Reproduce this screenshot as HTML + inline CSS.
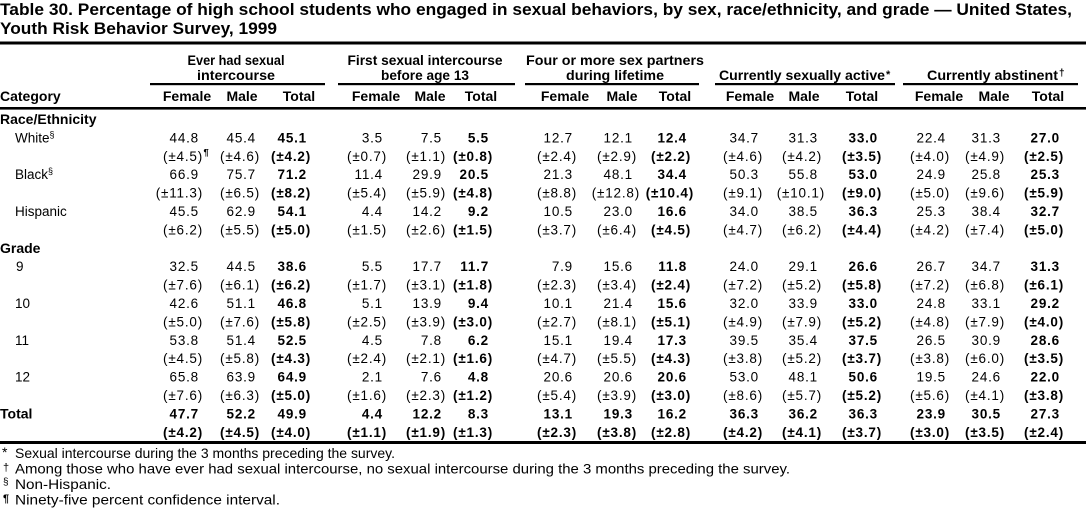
<!DOCTYPE html>
<html>
<head>
<meta charset="utf-8">
<style>
html,body{margin:0;padding:0;background:#fff;}
svg{display:block;}
text{font-family:"Liberation Sans",Arial,sans-serif;fill:#000;}
.ttl{font-size:17px;font-weight:bold;}
.grp{font-size:14px;font-weight:bold;text-anchor:middle;}
.hd{font-size:14px;font-weight:bold;text-anchor:middle;}
.cat{font-size:14px;font-weight:bold;}
.sub{font-size:13.5px;}
.n{font-size:13.5px;letter-spacing:0.8px;text-anchor:end;}
.b{font-weight:bold;}
.fn{font-size:14px;}
.sup{font-size:9px;}
</style>
</head>
<body>
<svg width="1086" height="509" viewBox="0 0 1086 509" xmlns="http://www.w3.org/2000/svg">
<!-- Title -->
<text class="ttl" x="0" y="15" textLength="1072" lengthAdjust="spacingAndGlyphs">Table 30. Percentage of high school students who engaged in sexual behaviors, by sex, race/ethnicity, and grade — United States,</text>
<text class="ttl" x="0" y="34" textLength="277" lengthAdjust="spacingAndGlyphs">Youth Risk Behavior Survey, 1999</text>

<!-- rules -->
<rect x="0" y="41.5" width="1086" height="3" fill="#000"/>
<rect x="0" y="107" width="1086" height="2.6" fill="#000"/>
<rect x="0" y="441" width="1086" height="3" fill="#000"/>

<!-- group underlines -->
<rect x="150" y="83" width="175" height="2.2" fill="#000"/>
<rect x="338" y="83" width="177" height="2.2" fill="#000"/>
<rect x="525" y="83" width="174" height="2.2" fill="#000"/>
<rect x="715" y="83" width="180" height="2.2" fill="#000"/>
<rect x="903" y="83" width="175" height="2.2" fill="#000"/>

<!-- group labels -->
<text class="grp" x="236" y="65" textLength="97" lengthAdjust="spacingAndGlyphs">Ever had sexual</text>
<text class="grp" x="236" y="80" textLength="78" lengthAdjust="spacingAndGlyphs">intercourse</text>
<text class="grp" x="425" y="65" textLength="155" lengthAdjust="spacingAndGlyphs">First sexual intercourse</text>
<text class="grp" x="425" y="80" textLength="88" lengthAdjust="spacingAndGlyphs">before age 13</text>
<text class="grp" x="615" y="65" textLength="178" lengthAdjust="spacingAndGlyphs">Four or more sex partners</text>
<text class="grp" x="615" y="80" textLength="98" lengthAdjust="spacingAndGlyphs">during lifetime</text>
<text class="cat" x="719" y="80" textLength="166" lengthAdjust="spacingAndGlyphs">Currently sexually active</text>
<text class="cat" x="886" y="78" style="font-size:11px">*</text>
<text class="cat" x="927" y="80" textLength="131" lengthAdjust="spacingAndGlyphs">Currently abstinent</text>
<text class="cat" x="1059" y="76" style="font-size:10px">†</text>

<!-- column headers -->
<text class="cat" x="0" y="101">Category</text>
<text class="hd" y="101"><tspan x="187">Female</tspan><tspan x="242">Male</tspan><tspan x="299">Total</tspan><tspan x="376">Female</tspan><tspan x="430">Male</tspan><tspan x="481">Total</tspan><tspan x="565">Female</tspan><tspan x="622">Male</tspan><tspan x="675">Total</tspan><tspan x="750">Female</tspan><tspan x="804">Male</tspan><tspan x="862">Total</tspan><tspan x="939">Female</tspan><tspan x="994">Male</tspan><tspan x="1048">Total</tspan></text>

<!-- category column -->
<text class="cat" x="0" y="124">Race/Ethnicity</text>
<text class="sub" x="15" y="142.4">White<tspan class="sup" dy="-5">§</tspan></text>
<text class="sub" x="15" y="179.2">Black<tspan class="sup" dy="-5">§</tspan></text>
<text class="sub" x="15" y="216">Hispanic</text>
<text class="cat" x="0" y="252.8">Grade</text>
<text class="sub" x="16" y="271.2">9</text>
<text class="sub" x="15" y="308">10</text>
<text class="sub" x="15" y="344.8">11</text>
<text class="sub" x="15" y="381.6">12</text>
<text class="cat" x="0" y="418.4">Total</text>

<!-- White -->
<text class="n" y="142.4"><tspan x="199">44.8</tspan><tspan x="256">45.4</tspan><tspan x="307" class="b">45.1</tspan><tspan x="383">3.5</tspan><tspan x="442">7.5</tspan><tspan x="489" class="b">5.5</tspan><tspan x="573">12.7</tspan><tspan x="633">12.1</tspan><tspan x="687" class="b">12.4</tspan><tspan x="759">34.7</tspan><tspan x="818">31.3</tspan><tspan x="878" class="b">33.0</tspan><tspan x="946">22.4</tspan><tspan x="1001">31.3</tspan><tspan x="1060" class="b">27.0</tspan></text>
<text class="n" y="160.8"><tspan x="203">(±4.5)</tspan><tspan x="260">(±4.6)</tspan><tspan x="311" class="b">(±4.2)</tspan><tspan x="387">(±0.7)</tspan><tspan x="446">(±1.1)</tspan><tspan x="493" class="b">(±0.8)</tspan><tspan x="577">(±2.4)</tspan><tspan x="637">(±2.9)</tspan><tspan x="691" class="b">(±2.2)</tspan><tspan x="763">(±4.6)</tspan><tspan x="822">(±4.2)</tspan><tspan x="882" class="b">(±3.5)</tspan><tspan x="950">(±4.0)</tspan><tspan x="1005">(±4.9)</tspan><tspan x="1064" class="b">(±2.5)</tspan></text>
<text class="sup" x="203.5" y="155.5" style="font-size:9.5px;font-weight:bold">¶</text>

<!-- Black -->
<text class="n" y="179.2"><tspan x="199">66.9</tspan><tspan x="256">75.7</tspan><tspan x="307" class="b">71.2</tspan><tspan x="383">11.4</tspan><tspan x="442">29.9</tspan><tspan x="489" class="b">20.5</tspan><tspan x="573">21.3</tspan><tspan x="633">48.1</tspan><tspan x="687" class="b">34.4</tspan><tspan x="759">50.3</tspan><tspan x="818">55.8</tspan><tspan x="878" class="b">53.0</tspan><tspan x="946">24.9</tspan><tspan x="1001">25.8</tspan><tspan x="1060" class="b">25.3</tspan></text>
<text class="n" y="197.6"><tspan x="203">(±11.3)</tspan><tspan x="260">(±6.5)</tspan><tspan x="311" class="b">(±8.2)</tspan><tspan x="387">(±5.4)</tspan><tspan x="446">(±5.9)</tspan><tspan x="493" class="b">(±4.8)</tspan><tspan x="577">(±8.8)</tspan><tspan x="640">(±12.8)</tspan><tspan x="694" class="b">(±10.4)</tspan><tspan x="763">(±9.1)</tspan><tspan x="825">(±10.1)</tspan><tspan x="882" class="b">(±9.0)</tspan><tspan x="950">(±5.0)</tspan><tspan x="1005">(±9.6)</tspan><tspan x="1064" class="b">(±5.9)</tspan></text>

<!-- Hispanic -->
<text class="n" y="216"><tspan x="199">45.5</tspan><tspan x="256">62.9</tspan><tspan x="307" class="b">54.1</tspan><tspan x="383">4.4</tspan><tspan x="442">14.2</tspan><tspan x="489" class="b">9.2</tspan><tspan x="573">10.5</tspan><tspan x="633">23.0</tspan><tspan x="687" class="b">16.6</tspan><tspan x="759">34.0</tspan><tspan x="818">38.5</tspan><tspan x="878" class="b">36.3</tspan><tspan x="946">25.3</tspan><tspan x="1001">38.4</tspan><tspan x="1060" class="b">32.7</tspan></text>
<text class="n" y="234.4"><tspan x="203">(±6.2)</tspan><tspan x="260">(±5.5)</tspan><tspan x="311" class="b">(±5.0)</tspan><tspan x="387">(±1.5)</tspan><tspan x="446">(±2.6)</tspan><tspan x="493" class="b">(±1.5)</tspan><tspan x="577">(±3.7)</tspan><tspan x="637">(±6.4)</tspan><tspan x="691" class="b">(±4.5)</tspan><tspan x="763">(±4.7)</tspan><tspan x="822">(±6.2)</tspan><tspan x="882" class="b">(±4.4)</tspan><tspan x="950">(±4.2)</tspan><tspan x="1005">(±7.4)</tspan><tspan x="1064" class="b">(±5.0)</tspan></text>

<!-- Grade 9 -->
<text class="n" y="271.2"><tspan x="199">32.5</tspan><tspan x="256">44.5</tspan><tspan x="307" class="b">38.6</tspan><tspan x="383">5.5</tspan><tspan x="442">17.7</tspan><tspan x="489" class="b">11.7</tspan><tspan x="573">7.9</tspan><tspan x="633">15.6</tspan><tspan x="687" class="b">11.8</tspan><tspan x="759">24.0</tspan><tspan x="818">29.1</tspan><tspan x="878" class="b">26.6</tspan><tspan x="946">26.7</tspan><tspan x="1001">34.7</tspan><tspan x="1060" class="b">31.3</tspan></text>
<text class="n" y="289.6"><tspan x="203">(±7.6)</tspan><tspan x="260">(±6.1)</tspan><tspan x="311" class="b">(±6.2)</tspan><tspan x="387">(±1.7)</tspan><tspan x="446">(±3.1)</tspan><tspan x="493" class="b">(±1.8)</tspan><tspan x="577">(±2.3)</tspan><tspan x="637">(±3.4)</tspan><tspan x="691" class="b">(±2.4)</tspan><tspan x="763">(±7.2)</tspan><tspan x="822">(±5.2)</tspan><tspan x="882" class="b">(±5.8)</tspan><tspan x="950">(±7.2)</tspan><tspan x="1005">(±6.8)</tspan><tspan x="1064" class="b">(±6.1)</tspan></text>

<!-- Grade 10 -->
<text class="n" y="308"><tspan x="199">42.6</tspan><tspan x="256">51.1</tspan><tspan x="307" class="b">46.8</tspan><tspan x="383">5.1</tspan><tspan x="442">13.9</tspan><tspan x="489" class="b">9.4</tspan><tspan x="573">10.1</tspan><tspan x="633">21.4</tspan><tspan x="687" class="b">15.6</tspan><tspan x="759">32.0</tspan><tspan x="818">33.9</tspan><tspan x="878" class="b">33.0</tspan><tspan x="946">24.8</tspan><tspan x="1001">33.1</tspan><tspan x="1060" class="b">29.2</tspan></text>
<text class="n" y="326.4"><tspan x="203">(±5.0)</tspan><tspan x="260">(±7.6)</tspan><tspan x="311" class="b">(±5.8)</tspan><tspan x="387">(±2.5)</tspan><tspan x="446">(±3.9)</tspan><tspan x="493" class="b">(±3.0)</tspan><tspan x="577">(±2.7)</tspan><tspan x="637">(±8.1)</tspan><tspan x="691" class="b">(±5.1)</tspan><tspan x="763">(±4.9)</tspan><tspan x="822">(±7.9)</tspan><tspan x="882" class="b">(±5.2)</tspan><tspan x="950">(±4.8)</tspan><tspan x="1005">(±7.9)</tspan><tspan x="1064" class="b">(±4.0)</tspan></text>

<!-- Grade 11 -->
<text class="n" y="344.8"><tspan x="199">53.8</tspan><tspan x="256">51.4</tspan><tspan x="307" class="b">52.5</tspan><tspan x="383">4.5</tspan><tspan x="442">7.8</tspan><tspan x="489" class="b">6.2</tspan><tspan x="573">15.1</tspan><tspan x="633">19.4</tspan><tspan x="687" class="b">17.3</tspan><tspan x="759">39.5</tspan><tspan x="818">35.4</tspan><tspan x="878" class="b">37.5</tspan><tspan x="946">26.5</tspan><tspan x="1001">30.9</tspan><tspan x="1060" class="b">28.6</tspan></text>
<text class="n" y="363.2"><tspan x="203">(±4.5)</tspan><tspan x="260">(±5.8)</tspan><tspan x="311" class="b">(±4.3)</tspan><tspan x="387">(±2.4)</tspan><tspan x="446">(±2.1)</tspan><tspan x="493" class="b">(±1.6)</tspan><tspan x="577">(±4.7)</tspan><tspan x="637">(±5.5)</tspan><tspan x="691" class="b">(±4.3)</tspan><tspan x="763">(±3.8)</tspan><tspan x="822">(±5.2)</tspan><tspan x="882" class="b">(±3.7)</tspan><tspan x="950">(±3.8)</tspan><tspan x="1005">(±6.0)</tspan><tspan x="1064" class="b">(±3.5)</tspan></text>

<!-- Grade 12 -->
<text class="n" y="381.6"><tspan x="199">65.8</tspan><tspan x="256">63.9</tspan><tspan x="307" class="b">64.9</tspan><tspan x="383">2.1</tspan><tspan x="442">7.6</tspan><tspan x="489" class="b">4.8</tspan><tspan x="573">20.6</tspan><tspan x="633">20.6</tspan><tspan x="687" class="b">20.6</tspan><tspan x="759">53.0</tspan><tspan x="818">48.1</tspan><tspan x="878" class="b">50.6</tspan><tspan x="946">19.5</tspan><tspan x="1001">24.6</tspan><tspan x="1060" class="b">22.0</tspan></text>
<text class="n" y="400"><tspan x="203">(±7.6)</tspan><tspan x="260">(±6.3)</tspan><tspan x="311" class="b">(±5.0)</tspan><tspan x="387">(±1.6)</tspan><tspan x="446">(±2.3)</tspan><tspan x="493" class="b">(±1.2)</tspan><tspan x="577">(±5.4)</tspan><tspan x="637">(±3.9)</tspan><tspan x="691" class="b">(±3.0)</tspan><tspan x="763">(±8.6)</tspan><tspan x="822">(±5.7)</tspan><tspan x="882" class="b">(±5.2)</tspan><tspan x="950">(±5.6)</tspan><tspan x="1005">(±4.1)</tspan><tspan x="1064" class="b">(±3.8)</tspan></text>

<!-- Total -->
<text class="n b" y="418.4"><tspan x="199">47.7</tspan><tspan x="256">52.2</tspan><tspan x="307">49.9</tspan><tspan x="383">4.4</tspan><tspan x="442">12.2</tspan><tspan x="489">8.3</tspan><tspan x="573">13.1</tspan><tspan x="633">19.3</tspan><tspan x="687">16.2</tspan><tspan x="759">36.3</tspan><tspan x="818">36.2</tspan><tspan x="878">36.3</tspan><tspan x="946">23.9</tspan><tspan x="1001">30.5</tspan><tspan x="1060">27.3</tspan></text>
<text class="n b" y="436.8"><tspan x="203">(±4.2)</tspan><tspan x="260">(±4.5)</tspan><tspan x="311">(±4.0)</tspan><tspan x="387">(±1.1)</tspan><tspan x="446">(±1.9)</tspan><tspan x="493">(±1.3)</tspan><tspan x="577">(±2.3)</tspan><tspan x="637">(±3.8)</tspan><tspan x="691">(±2.8)</tspan><tspan x="763">(±4.2)</tspan><tspan x="822">(±4.1)</tspan><tspan x="882">(±3.7)</tspan><tspan x="950">(±3.0)</tspan><tspan x="1005">(±3.5)</tspan><tspan x="1064">(±2.4)</tspan></text>

<!-- Footnotes -->
<text class="fn" x="2" y="457" style="font-size:14px">*</text>
<text class="fn" x="15" y="458" textLength="380" lengthAdjust="spacingAndGlyphs">Sexual intercourse during the 3 months preceding the survey.</text>
<text class="fn" x="3" y="471" style="font-size:11px">†</text>
<text class="fn" x="15" y="473.5" textLength="775" lengthAdjust="spacingAndGlyphs">Among those who have ever had sexual intercourse, no sexual intercourse during the 3 months preceding the survey.</text>
<text class="fn" x="3" y="485" style="font-size:10px">§</text>
<text class="fn" x="15" y="489" textLength="96" lengthAdjust="spacingAndGlyphs">Non-Hispanic.</text>
<text class="fn" x="3" y="502" style="font-size:11px;font-weight:bold">¶</text>
<text class="fn" x="15" y="504.5" textLength="265" lengthAdjust="spacingAndGlyphs">Ninety-five percent confidence interval.</text>
</svg>
</body>
</html>
